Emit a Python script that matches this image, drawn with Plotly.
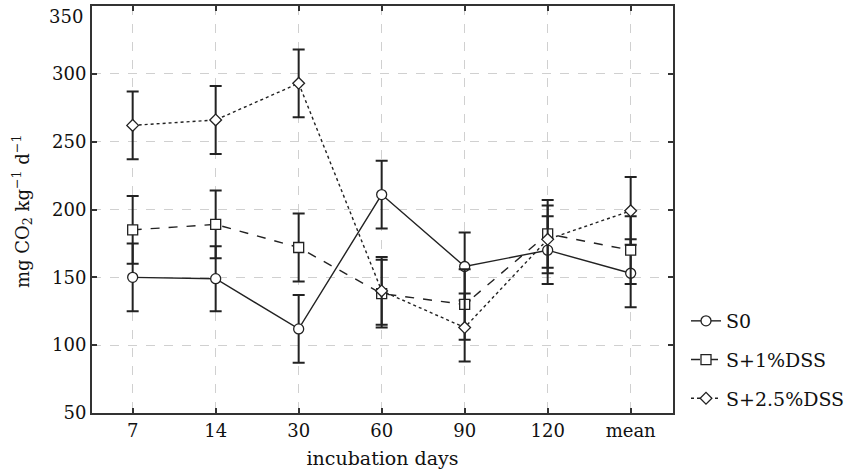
import plotly.graph_objects as go

categories = ["7", "14", "30", "60", "90", "120", "mean"]
s0 = [150, 149, 112, 211, 158, 170, 153]
s0_err = [25, 24, 25, 25, 25, 25, 25]
s1 = [185, 189, 172, 138, 130, 182, 170]
s1_err = [25, 25, 25, 25, 26, 25, 25]
s25 = [262, 266, 293, 140, 113, 178, 199]
s25_err = [25, 25, 25, 25, 25, 25, 25]
y_ticks = [50, 100, 150, 200, 250, 300, 350]

INK = "#222222"
FONT = "DejaVu Serif"

L, R, T, B = 92, 180, 6, 61
W, H = 853, 474
plot_w = W - L - R
plot_h = H - T - B

fig = go.Figure()

def add(name, y, err, symbol, dash, size, group):
    fig.add_trace(go.Scatter(
        x=categories, y=y, name=name, mode="lines+markers",
        legendgroup=group,
        line=dict(color=INK, width=1.4, dash=dash),
        marker=dict(symbol=symbol, size=size, color="white",
                    line=dict(color=INK, width=1.3)),
        error_y=dict(type="data", array=err, visible=True,
                     color=INK, thickness=2, width=6),
    ))

add("S0", s0, s0_err, "circle", "solid", 10, "a")
add("S+1%DSS", s1, s1_err, "square", "dash", 10, "b")
add("S+2.5%DSS", s25, s25_err, "diamond", "dot", 9, "c")

fig.update_layout(
    width=W, height=H,
    margin=dict(l=L, r=R, t=T, b=B, autoexpand=False),
    paper_bgcolor="white", plot_bgcolor="white",
    font=dict(family=FONT, size=18, color="#111111"),
    legend=dict(x=(686 - L) / plot_w, y=(413 - 302) / plot_h,
                xanchor="left", yanchor="top",
                font=dict(family=FONT, size=19),
                itemwidth=30,
                tracegroupgap=11, traceorder="grouped",
                bgcolor="rgba(0,0,0,0)"),
    xaxis=dict(
        type="category", categoryorder="array", categoryarray=categories,
        range=[-0.49, 6.51], automargin=False,
        showline=True, linecolor="#333333", linewidth=2, mirror="ticks",
        ticks="inside", ticklen=5, tickcolor="#333333", tickwidth=1.5,
        showgrid=True, gridcolor="#d0d0d0", griddash="dash", gridwidth=1,
        title=dict(text="incubation days", font=dict(family=FONT, size=19), standoff=12),
        tickfont=dict(family=FONT, size=18),
        zeroline=False,
    ),
    yaxis=dict(
        range=[50, 350], automargin=False,
        tickvals=y_ticks,
        ticktext=[str(v) if v != 350 else "" for v in y_ticks],
        showline=True, linecolor="#333333", linewidth=2, mirror="ticks",
        ticks="inside", ticklen=5, tickcolor="#333333", tickwidth=1.5,
        showgrid=True, gridcolor="#d0d0d0", griddash="dash", gridwidth=1,
        tickfont=dict(family=FONT, size=18),
        zeroline=False,
    ),
    annotations=[
        dict(text="350", x=0, xref="paper", xanchor="right", xshift=-7,
             y=(413 - 17) / plot_h, yref="paper", yanchor="middle",
             showarrow=False, font=dict(family=FONT, size=18)),
        dict(text="mg CO<sub>2</sub> kg<sup>−1</sup> d<sup>−1</sup>",
             x=(22 - L) / plot_w, xref="paper", xanchor="center",
             y=(413 - 212) / plot_h, yref="paper", yanchor="middle",
             showarrow=False, textangle=-90,
             font=dict(family=FONT, size=18)),
    ],
)

fig.write_html("out.html",
               config={"displayModeBar": False},
               post_script="document.body.style.margin='0';document.body.style.padding='0';")
